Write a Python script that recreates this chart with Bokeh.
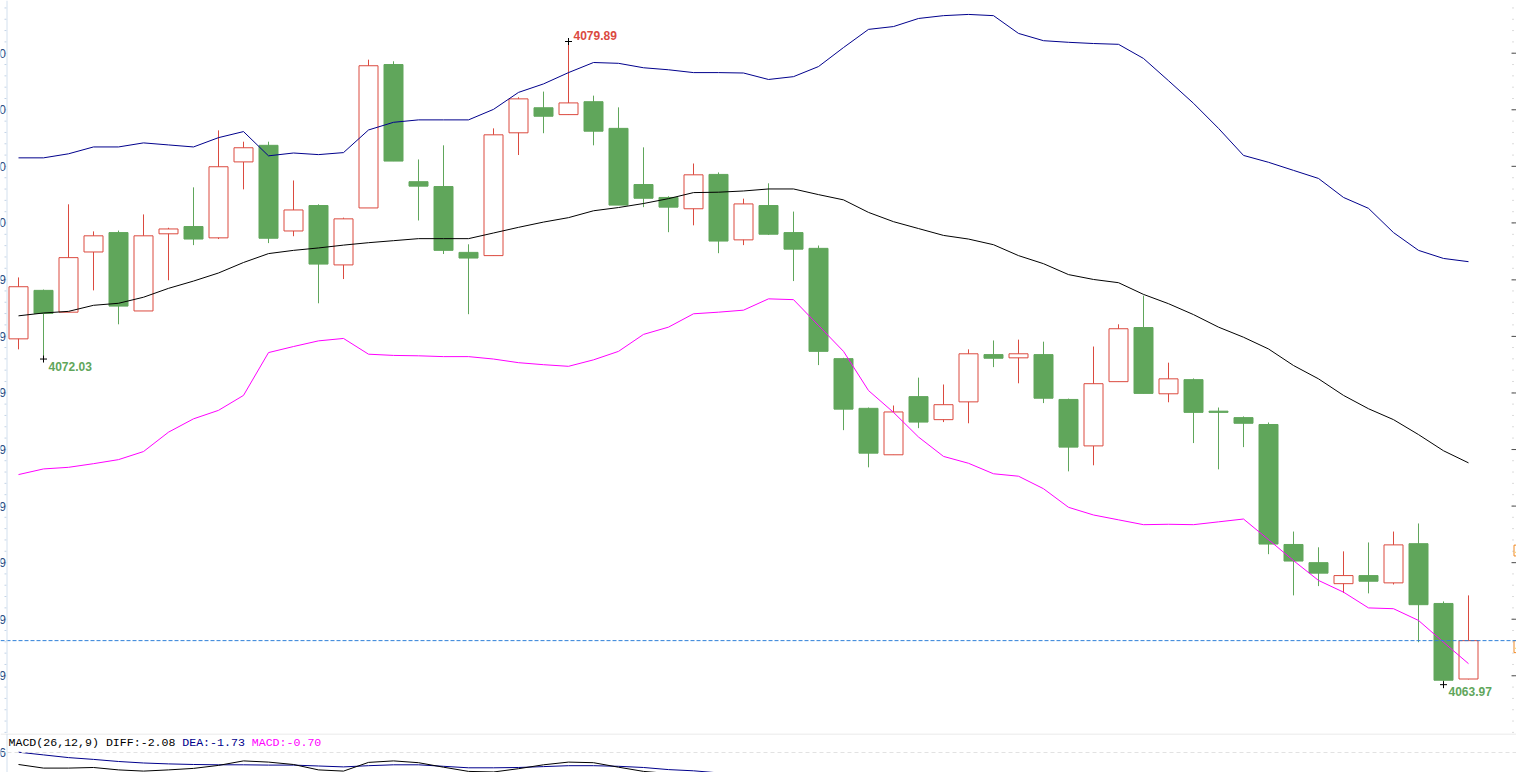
import numpy as np
from bokeh.plotting import figure
from bokeh.layouts import column
from bokeh.models import Range1d, Span, ColumnDataSource
from bokeh.core.properties import value
from bokeh.embed import file_html
from bokeh.resources import INLINE

# ---------------- data ----------------
bar_index = list(range(59))
open_ = [4072.53, 4073.73, 4073.19, 4074.68, 4075.16, 4073.22, 4075.13, 4075.31, 4075.03, 4076.91,
         4077.32, 4075.20, 4075.83, 4074.36, 4075.77, 4079.32, 4076.42, 4076.30, 4074.67, 4074.59,
         4077.63, 4078.25, 4078.08, 4078.40, 4077.74, 4076.35, 4076.03, 4075.75, 4076.60, 4074.98,
         4075.83, 4075.16, 4074.77, 4072.04, 4070.81, 4069.66, 4071.10, 4070.53, 4070.97, 4072.14,
         4072.06, 4072.14, 4071.03, 4069.88, 4071.47, 4072.81, 4071.17, 4071.52, 4070.74, 4070.58,
         4070.41, 4067.44, 4066.99, 4066.47, 4066.67, 4066.49, 4067.46, 4065.98, 4064.11]
high = [4074.05, 4073.75, 4075.86, 4075.19, 4075.21, 4075.61, 4075.28, 4076.28, 4077.69, 4077.41,
        4077.41, 4076.45, 4075.86, 4075.53, 4079.44, 4079.40, 4076.97, 4077.32, 4074.87, 4077.74,
        4078.51, 4078.65, 4079.89, 4078.55, 4078.26, 4077.27, 4076.06, 4076.87, 4076.65, 4076.00,
        4076.38, 4075.68, 4074.84, 4072.06, 4070.83, 4070.88, 4071.57, 4071.40, 4072.27, 4072.49,
        4072.51, 4072.46, 4071.05, 4072.34, 4072.89, 4073.60, 4071.94, 4071.55, 4070.83, 4070.61,
        4070.46, 4067.76, 4067.37, 4067.27, 4067.49, 4067.76, 4067.96, 4066.03, 4066.18]
low = [4072.27, 4072.03, 4073.19, 4073.73, 4072.89, 4073.22, 4073.98, 4074.85, 4075.00, 4076.23,
       4074.90, 4075.07, 4073.41, 4074.01, 4075.77, 4076.93, 4075.46, 4074.63, 4073.14, 4074.59,
       4077.08, 4077.62, 4078.08, 4077.32, 4075.84, 4075.79, 4075.17, 4075.34, 4074.65, 4074.85,
       4075.10, 4073.96, 4071.88, 4070.27, 4069.35, 4069.66, 4070.32, 4070.47, 4070.44, 4071.83,
       4071.43, 4070.94, 4069.25, 4069.40, 4071.47, 4071.18, 4070.96, 4069.95, 4069.30, 4069.85,
       4067.20, 4066.18, 4066.41, 4066.24, 4066.23, 4066.45, 4065.02, 4063.97, 4064.10]
close = [4073.82, 4073.16, 4074.54, 4075.08, 4073.34, 4075.08, 4075.25, 4075.00, 4076.79, 4077.26,
         4075.02, 4075.72, 4074.38, 4075.50, 4079.29, 4076.93, 4076.31, 4074.72, 4074.53, 4077.58,
         4078.47, 4078.04, 4078.37, 4077.67, 4075.84, 4076.01, 4075.79, 4076.59, 4074.95, 4075.87,
         4075.12, 4074.75, 4072.22, 4070.79, 4069.70, 4070.72, 4070.47, 4070.90, 4072.16, 4072.05,
         4072.16, 4071.06, 4069.85, 4071.42, 4072.78, 4071.18, 4071.54, 4070.71, 4070.71, 4070.44,
         4067.45, 4067.03, 4066.73, 4066.67, 4066.53, 4067.43, 4065.95, 4064.08, 4065.06]

boll_upper = [4077.01, 4077.01, 4077.11, 4077.28, 4077.28, 4077.38, 4077.33, 4077.28, 4077.51, 4077.66,
              4077.06, 4077.13, 4077.09, 4077.14, 4077.70, 4077.89, 4077.95, 4077.95, 4077.95, 4078.21,
              4078.63, 4078.84, 4079.12, 4079.37, 4079.35, 4079.24, 4079.19, 4079.12, 4079.12, 4079.11,
              4078.95, 4079.02, 4079.27, 4079.74, 4080.19, 4080.26, 4080.46, 4080.53, 4080.56, 4080.53,
              4080.09, 4079.91, 4079.87, 4079.84, 4079.82, 4079.47, 4078.92, 4078.36, 4077.74, 4077.07,
              4076.90, 4076.70, 4076.50, 4076.03, 4075.76, 4075.16, 4074.72, 4074.52, 4074.44]
boll_mid = [4073.10, 4073.17, 4073.21, 4073.36, 4073.41, 4073.56, 4073.78, 4073.96, 4074.16, 4074.42,
            4074.64, 4074.72, 4074.78, 4074.85, 4074.91, 4074.96, 4075.01, 4075.01, 4075.01, 4075.15,
            4075.29, 4075.42, 4075.53, 4075.70, 4075.78, 4075.88, 4076.00, 4076.15, 4076.16, 4076.19,
            4076.24, 4076.24, 4076.10, 4075.97, 4075.66, 4075.43, 4075.26, 4075.09, 4075.00, 4074.86,
            4074.59, 4074.39, 4074.12, 4074.00, 4073.92, 4073.63, 4073.40, 4073.13, 4072.82, 4072.57,
            4072.28, 4071.87, 4071.54, 4071.13, 4070.80, 4070.53, 4070.16, 4069.76, 4069.46]
boll_lower = [4069.17, 4069.31, 4069.35, 4069.44, 4069.54, 4069.74, 4070.22, 4070.55, 4070.76, 4071.13,
              4072.19, 4072.34, 4072.48, 4072.54, 4072.15, 4072.12, 4072.11, 4072.09, 4072.09, 4072.03,
              4071.94, 4071.89, 4071.85, 4072.01, 4072.22, 4072.64, 4072.82, 4073.15, 4073.19, 4073.24,
              4073.52, 4073.50, 4072.86, 4072.22, 4071.25, 4070.71, 4070.10, 4069.62, 4069.45, 4069.19,
              4069.13, 4068.82, 4068.36, 4068.17, 4068.05, 4067.93, 4067.94, 4067.93, 4068.00, 4068.07,
              4067.56, 4067.04, 4066.55, 4066.26, 4065.87, 4065.85, 4065.56, 4065.02, 4064.49]

macd_diff = [1.20, 1.08, 1.08, 1.10, 1.02, 0.98, 1.02, 1.07, 1.17, 1.32,
             1.28, 1.20, 1.02, 0.98, 1.27, 1.32, 1.26, 1.11, 0.97, 0.95,
             1.06, 1.19, 1.28, 1.26, 1.11, 0.97, 0.90, 0.80, 0.62, 0.55,
             0.45, 0.30, -0.05, -0.45, -0.85, -1.05, -1.15, -1.20, -1.10, -1.05,
             -1.02, -1.10, -1.30, -1.25, -1.05, -1.10, -1.12, -1.18, -1.25, -1.28,
             -1.70, -1.90, -2.00, -1.98, -1.98, -1.85, -1.95, -2.20, -2.08]
macd_dea = [1.61, 1.52, 1.43, 1.37, 1.30, 1.25, 1.22, 1.20, 1.19, 1.19,
            1.18, 1.18, 1.15, 1.12, 1.16, 1.19, 1.19, 1.14, 1.09, 1.09,
            1.10, 1.13, 1.16, 1.16, 1.14, 1.10, 1.03, 0.99, 0.92, 0.85,
            0.78, 0.70, 0.55, 0.35, 0.12, -0.08, -0.25, -0.40, -0.50, -0.57,
            -0.63, -0.70, -0.80, -0.86, -0.88, -0.92, -0.95, -1.00, -1.05, -1.10,
            -1.22, -1.33, -1.42, -1.48, -1.53, -1.55, -1.60, -1.68, -1.73]
macd_legend_values = {"DIFF": -2.08, "DEA": -1.73, "MACD": -0.70}

y_ticks = [4079.60, 4078.20, 4076.80, 4075.40, 4073.99, 4072.59,
           4071.19, 4069.79, 4068.39, 4066.99, 4065.59, 4064.19]
y_tick_labels = ["4079.60", "4078.20", "4076.80", "4075.40", "4073.99", "4072.59",
                 "4071.19", "4069.79", "4068.39", "4066.99", "4065.59", "4064.19"]
macd_ticks = [1.6]
macd_tick_labels = ["1.6"]

ref_price = 4067.29          # marker box on the right price axis
mark_index = [22, 1, 57]     # annotated extremes
mark_kind = ["high", "low", "low"]

# ---------------- geometry / style ----------------
W = 1516
H_MAIN = 733
H_MACD = 39
PX_PER_BAR = 25.0
FIRST_BAR_PX = 18.0
x_start = -FIRST_BAR_PX / PX_PER_BAR
x_end = x_start + W / PX_PER_BAR
PX_PER_PRICE = 40.4
price_top = 4079.89 + 41 / PX_PER_PRICE
price_bottom = price_top - H_MAIN / PX_PER_PRICE

MACD_PX_PER_UNIT = 30.0
macd_top = 2.2333
macd_bottom = macd_top - H_MACD / MACD_PX_PER_UNIT

RED = "#db4a3f"
GREEN = "#60a65b"
NAVY = "#00008c"
MAGENTA = "#ff00ff"
AXIS_BLUE = "#d3e0ee"


def xpx(px):
    return x_start + px / PX_PER_BAR


p = figure(width=W, height=H_MAIN, x_range=Range1d(x_start, x_end),
           y_range=Range1d(price_bottom, price_top), output_backend="svg",
           toolbar_location=None, x_axis_type=None, y_axis_type=None,
           min_border=0, outline_line_color=None, background_fill_color="white",
           border_fill_color="white")
p.grid.visible = False

# candles
is_up = [c >= o for o, c in zip(open_, close)]
src = ColumnDataSource(dict(
    x=bar_index,
    high=high, low=low,
    top=[max(o, c) for o, c in zip(open_, close)],
    bottom=[min(o, c) for o, c in zip(open_, close)],
    color=[RED if u else GREEN for u in is_up],
    fill=["white" if u else GREEN for u in is_up],
))
p.segment(x0="x", y0="high", x1="x", y1="low", line_color="color", line_width=1, source=src)
p.vbar(x="x", width=0.76, top="top", bottom="bottom", fill_color="fill",
       line_color="color", line_width=1, source=src)

# Bollinger bands
p.line(bar_index, boll_upper, line_color=NAVY, line_width=1)
p.line(bar_index, boll_mid, line_color="black", line_width=1)
p.line(bar_index, boll_lower, line_color=MAGENTA, line_width=1)

# current price dashed line
p.add_layout(Span(location=close[-1], dimension="width", line_color="#2f80d8",
                  line_dash="4 2", line_width=1))

# extreme annotations
mx, my, mt, mc, moff = [], [], [], [], []
for i, k in zip(mark_index, mark_kind):
    v = high[i] if k == "high" else low[i]
    mx.append(i)
    my.append(v)
    mt.append(f"{v:.2f}")
    mc.append(RED if k == "high" else GREEN)
    moff.append(-6 if k == "high" else 7)
p.scatter(mx, my, marker="cross", size=7, line_color="black", line_width=1)
p.text(x=mx, y=my, text=mt, text_color=mc, x_offset=5, y_offset=moff,
       text_font=value("Liberation Sans"), text_font_style="bold",
       text_font_size="12px", text_align="left", text_baseline="middle")

# left axis (clipped labels)
p.add_layout(Span(location=xpx(6.5), dimension="height", line_color=AXIS_BLUE, line_width=1))
step = (y_ticks[0] - y_ticks[-1]) / (len(y_ticks) - 1)
minor = []
t = y_ticks[0] + step
while t > price_bottom:
    for k in range(5):
        mv = t - k * step / 5
        if price_bottom < mv < price_top:
            minor.append(mv)
    t -= step
p.segment(x0=[xpx(4)] * len(minor), x1=[xpx(6)] * len(minor), y0=minor, y1=minor,
          line_color="#c3d3e6", line_width=1)
p.text(x=[xpx(5.5)] * len(y_ticks), y=y_ticks, text=y_tick_labels, text_color="#2a4a80",
       text_font=value("Liberation Sans"), text_font_size="12px",
       text_align="right", text_baseline="middle")

# right axis (labels fall outside the window)
p.segment(x0=[xpx(1512)] * len(minor), x1=[xpx(1513)] * len(minor), y0=minor, y1=minor,
          line_color="#b8b8b8", line_width=1)
p.segment(x0=[xpx(1511)] * len(y_ticks), x1=[xpx(1516)] * len(y_ticks), y0=y_ticks, y1=y_ticks,
          line_color="#505050", line_width=1)

box_h = 12 / PX_PER_PRICE
p.quad(left=[xpx(1513.5)] * 2, right=[xpx(1560)] * 2,
       top=[ref_price + 0.45 * box_h, close[-1]],
       bottom=[ref_price - 0.45 * box_h, close[-1] - box_h],
       fill_color="white", line_color="#f08a24", line_width=1)
p.text(x=[xpx(1515)] * 2, y=[ref_price, close[-1] - box_h / 2],
       text=[f"{ref_price:.2f}", f"{close[-1]:.2f}"], text_color="#f08a24",
       text_font=value("Liberation Sans"), text_font_size="11px",
       text_align="left", text_baseline="middle")

# ---------------- MACD panel ----------------
p2 = figure(width=W, height=H_MACD, x_range=p.x_range,
            y_range=Range1d(macd_bottom, macd_top), output_backend="svg",
            toolbar_location=None, x_axis_type=None, y_axis_type=None,
            min_border=0, outline_line_color=None, background_fill_color="white",
            border_fill_color="white")
p2.grid.visible = False
p2.add_layout(Span(location=macd_top - 0.5 / MACD_PX_PER_UNIT, dimension="width",
                   line_color="#e4e4e4", line_width=1))
for mt_ in macd_ticks:
    p2.add_layout(Span(location=mt_, dimension="width", line_color="#e2e2e2",
                       line_dash="4 3", line_width=1))
p2.add_layout(Span(location=xpx(6.5), dimension="height", line_color=AXIS_BLUE, line_width=1))
p2.text(x=[xpx(5.5)] * len(macd_ticks), y=macd_ticks, text=macd_tick_labels, text_color="#2a4a80",
        text_font=value("Liberation Sans"), text_font_size="12px",
        text_align="right", text_baseline="middle")

p2.line(bar_index, macd_dea, line_color=NAVY, line_width=1)
p2.line(bar_index, macd_diff, line_color="black", line_width=1)

CHAR_W = 6.95
legend_y = macd_top - 8.5 / MACD_PX_PER_UNIT
seg1 = f"MACD(26,12,9) DIFF:{macd_legend_values['DIFF']:.2f}"
seg2 = f"DEA:{macd_legend_values['DEA']:.2f}"
seg3 = f"MACD:{macd_legend_values['MACD']:.2f}"
segs = [seg1, seg2, seg3]
starts = [0, len(seg1) + 1, len(seg1) + 1 + len(seg2) + 1]
p2.text(x=[xpx(8 + s * CHAR_W) for s in starts], y=[legend_y] * 3, text=segs,
        text_color=["black", NAVY, MAGENTA], text_font=value("Liberation Mono"),
        text_font_size="11.6px", text_align="left", text_baseline="middle")

layout = column(p, p2, spacing=0)
open("out.html", "w").write(file_html(layout, INLINE))
